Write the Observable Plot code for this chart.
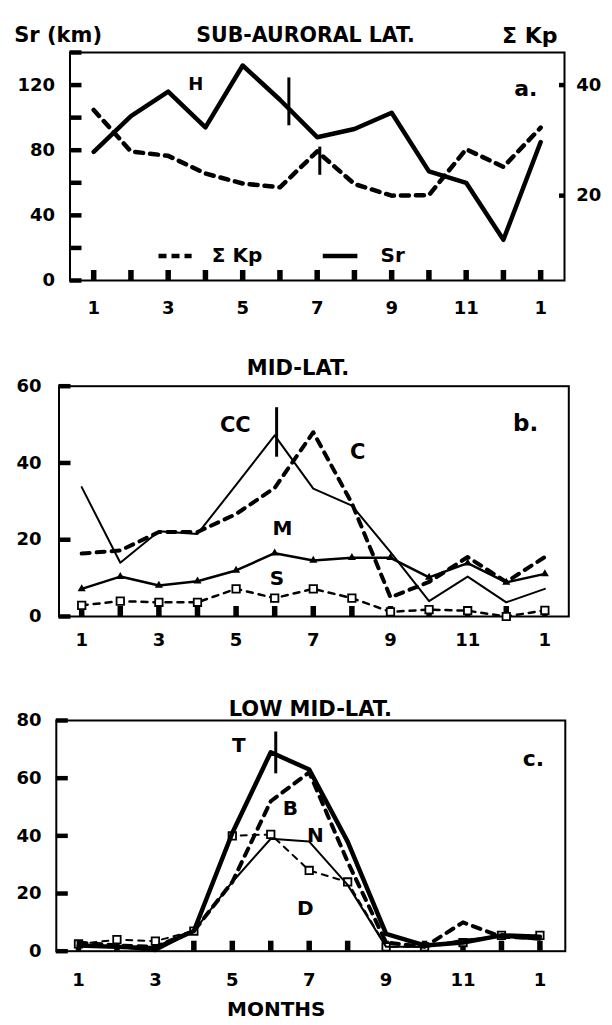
<!DOCTYPE html>
<html>
<head>
<meta charset="utf-8">
<script src="https://cdn.jsdelivr.net/npm/d3@7"></script>
<script src="https://cdn.jsdelivr.net/npm/@observablehq/plot@0.6"></script>
<style>
  html, body { margin: 0; padding: 0; background: white; }
  #chart { position: relative; width: 612px; height: 1025px; background: white; }
</style>
</head>
<body>
<div id="chart"></div>
<script>
// ---------- shared ----------
const months = [1, 2, 3, 4, 5, 6, 7, 8, 9, 10, 11, 12, 13];
const xTickValues = [1, 3, 5, 7, 9, 11, 13];
const xTickLabels = ["1", "3", "5", "7", "9", "11", "1"];

// ---------- panel a: sub-auroral ----------
const titleA = "SUB-AURORAL LAT.";
const srValues = [79, 101, 116, 94, 132, 111, 88, 93, 103, 67, 60, 25, 85];
const kpValues = [35.5, 28, 27.2, 24, 22.2, 21.5, 28, 22.1, 20, 20.1, 28.4, 25.2, 32.3];
const yTicksA = [0, 20, 40, 60, 80, 100, 120, 140];
const yLabelsA = [0, 40, 80, 120];
const kpAxisTicks = [20, 40];       // right axis (sum Kp)
const kpAxisSr = [52.1, 120];        // where those right-axis ticks sit on the Sr axis
const labelsA = [{t: "H", x: 3.74, y: 120.7, s: 18}, {t: "a.", x: 12.6, y: 117.6, s: 22}];
const barsA = [{x: 6.24, y1: 95, y2: 124.4}, {x: 7.07, y1: 64.6, y2: 81.9}];
const legendKp = [{name: "Σ Kp", x1: 2.74, x2: 3.63, tx: 4.17, y: 15}];
const legendSr = [{name: "Sr", x1: 7.15, x2: 8.08, tx: 8.7, y: 15}];

// ---------- panel b: mid-lat ----------
const titleB = "MID-LAT.";
const ccValues = [33.7, 14, 22.2, 21.5, 34.3, 47.2, 33.3, 28.9, 16.8, 4, 10.4, 3.7, 7.2];
const cValues = [16.4, 17.2, 22, 22, 26.7, 33.5, 48, 29.5, 5, 9, 15.5, 9, 15.5];
const mValues = [7.2, 10.4, 8.1, 9.2, 12, 16.5, 14.6, 15.3, 15.3, 10.2, 13.9, 8.9, 11.1];
const sValues = [2.9, 4, 3.7, 3.7, 7.2, 4.8, 7.2, 4.8, 1.2, 1.8, 1.5, 0, 1.6];
const yTicksB = [0, 20, 40, 60];
const labelsB = [
  {t: "CC", x: 4.98, y: 49.8, s: 21}, {t: "C", x: 8.15, y: 42.8, s: 21},
  {t: "M", x: 6.2, y: 22.9, s: 20}, {t: "S", x: 6.06, y: 9.9, s: 20},
  {t: "b.", x: 12.5, y: 50.3, s: 23}
];
const barsB = [{x: 6.05, y1: 41.5, y2: 54.4}];

// ---------- panel c: low mid-lat ----------
const titleC = "LOW MID-LAT.";
const tValues = [2, 1.5, 1, 7, 41, 69, 63, 38, 6, 2, 3, 5.5, 5];
const bValues = [3, 2, 1.5, 7, 24, 52, 62, 31, 3, 1.5, 10, 5, 4.5];
const nValues = [2, 1.5, 0, 7, 24, 39, 38, 23, 1.5, 1.5, 4, 5, 4];
const dValues = [2.5, 4, 3.5, 7, 40, 40.5, 28, 24, 1.5, 1.5, 3, 5.5, 5.5];
const yTicksC = [0, 20, 40, 60, 80];
const labelsC = [
  {t: "T", x: 5.17, y: 71.3, s: 20}, {t: "B", x: 6.51, y: 49.4, s: 20},
  {t: "N", x: 7.16, y: 40.1, s: 20}, {t: "D", x: 6.9, y: 14.7, s: 20},
  {t: "c.", x: 12.83, y: 66.7, s: 22}
];
const barsC = [{x: 6.13, y1: 61.5, y2: 76}];

// ---------- helpers ----------
const FONT = "DejaVu Sans";
const series = vals => months.map((m, i) => ({m, v: vals[i]}));

function commonMarks(g, yTicks, yLabels, xLabelDy, yLabelDx) {
  const plotH = g.height - g.mt - g.mb;
  const plotW = 612 - g.ml - g.mr;
  return [
    Plot.frame({strokeWidth: 2}),
    Plot.ruleX(months, {x: d => d, insetTop: plotH - 10, strokeWidth: 5.5}),
    Plot.ruleY(yTicks, {y: d => d, insetRight: plotW - 12, strokeWidth: 4.5}),
    Plot.text(xTickValues, {x: d => d, text: (d, i) => xTickLabels[i], frameAnchor: "bottom", dy: xLabelDy, fontSize: 18, fontWeight: "bold"}),
    Plot.text(yLabels, {y: d => d, text: d => String(d), frameAnchor: "left", textAnchor: "end", dx: yLabelDx, fontSize: 18, fontWeight: "bold"})
  ];
}

function labelMarks(labels) {
  return Plot.text(labels, {x: "x", y: "y", text: "t", fontSize: d => d.s, fontWeight: "bold"});
}
function barMarks(bars) {
  return Plot.ruleX(bars, {x: "x", y1: "y1", y2: "y2", strokeWidth: 3});
}
function headText(str, anchor, dx, dy, size, textAnchor) {
  return Plot.text([str], {text: d => d, frameAnchor: anchor, textAnchor, dx, dy, fontSize: size, fontWeight: "bold"});
}

function place(svg, top) {
  svg.style.position = "absolute";
  svg.style.top = top + "px";
  svg.style.left = "0px";
  document.getElementById("chart").appendChild(svg);
}

const styleObj = {fontFamily: FONT, fontWeight: "bold", background: "transparent", color: "black", overflow: "visible"};

// ---------- panel a ----------
{
  const g = {height: 330, mt: 52, mb: 50, ml: 69.5, mr: 48};
  const kpSlope = (kpAxisSr[1] - kpAxisSr[0]) / (kpAxisTicks[1] - kpAxisTicks[0]);
  const kpToSr = k => kpAxisSr[0] + (k - kpAxisTicks[0]) * kpSlope;
  const plotW = 612 - g.ml - g.mr;
  const p = Plot.plot({
    width: 612, height: g.height,
    marginTop: g.mt, marginBottom: g.mb, marginLeft: g.ml, marginRight: g.mr,
    x: {domain: [0.364, 13.64], axis: null},
    y: {domain: [0, 140], axis: null},
    style: styleObj,
    marks: [
      ...commonMarks(g, yTicksA, yLabelsA, 33, -15),
      Plot.ruleY(kpAxisTicks, {y: kpToSr, insetLeft: plotW - 5, strokeWidth: 4.5}),
      Plot.text(kpAxisTicks, {y: kpToSr, text: d => String(d), frameAnchor: "right", textAnchor: "start", dx: 11.7, fontSize: 18, fontWeight: "bold"}),
      Plot.line(series(kpValues), {x: "m", y: d => kpToSr(d.v), strokeWidth: 4.5, strokeDasharray: "8,7"}),
      Plot.line(series(srValues), {x: "m", y: "v", strokeWidth: 4.5}),
      barMarks(barsA),
      labelMarks(labelsA),
      Plot.link(legendKp, {x1: "x1", x2: "x2", y1: "y", y2: "y", strokeWidth: 4.5, strokeDasharray: "8,5"}),
      Plot.link(legendSr, {x1: "x1", x2: "x2", y1: "y", y2: "y", strokeWidth: 4.5}),
      Plot.text([...legendKp, ...legendSr], {x: "tx", y: "y", text: "name", textAnchor: "start", fontSize: 20, fontWeight: "bold"}),
      headText(titleA, "top-left", 235.5, -25.3, 20.5, "middle"),
      headText("Sr (km)", "top-left", -55.8, -25.3, 21, "start"),
      headText("Σ Kp", "top-left", 432, -25.3, 22, "start")
    ]
  });
  place(p, 0);
}

// ---------- panel b ----------
{
  const g = {height: 330, mt: 55.7, mb: 44, ml: 58.5, mr: 43.7};
  const p = Plot.plot({
    width: 612, height: g.height,
    marginTop: g.mt, marginBottom: g.mb, marginLeft: g.ml, marginRight: g.mr,
    x: {domain: [0.412, 13.62], axis: null},
    y: {domain: [0, 60], axis: null},
    style: styleObj,
    marks: [
      ...commonMarks(g, yTicksB, yTicksB, 29, -17.5),
      Plot.line(series(sValues), {x: "m", y: "v", strokeWidth: 2.5, strokeDasharray: "6,6"}),
      Plot.dot(series(sValues), {x: "m", y: "v", symbol: "square", r: 4.2, fill: "white", stroke: "black", strokeWidth: 1.8}),
      Plot.line(series(mValues), {x: "m", y: "v", strokeWidth: 2.5}),
      Plot.dot(series(mValues), {x: "m", y: "v", symbol: "triangle", r: 3, fill: "black"}),
      Plot.line(series(ccValues), {x: "m", y: "v", strokeWidth: 2}),
      Plot.line(series(cValues), {x: "m", y: "v", strokeWidth: 4, strokeDasharray: "8,7"}),
      barMarks(barsB),
      labelMarks(labelsB),
      headText(titleB, "top-left", 239, -25.7, 21, "middle")
    ]
  });
  place(p, 330);
}

// ---------- panel c ----------
{
  const g = {height: 365, mt: 60, mb: 74.3, ml: 55.8, mr: 47.2};
  const p = Plot.plot({
    width: 612, height: g.height,
    marginTop: g.mt, marginBottom: g.mb, marginLeft: g.ml, marginRight: g.mr,
    x: {domain: [0.423, 13.66], axis: null},
    y: {domain: [0, 80], axis: null},
    style: styleObj,
    marks: [
      ...commonMarks(g, yTicksC, yTicksC, 34.3, -14.8),
      Plot.line(series(dValues), {x: "m", y: "v", strokeWidth: 2, strokeDasharray: "6,6"}),
      Plot.dot(series(dValues), {x: "m", y: "v", symbol: "square", r: 4.2, fill: "white", stroke: "black", strokeWidth: 1.8}),
      Plot.line(series(nValues), {x: "m", y: "v", strokeWidth: 2}),
      Plot.line(series(bValues), {x: "m", y: "v", strokeWidth: 4, strokeDasharray: "8,7"}),
      Plot.line(series(tValues), {x: "m", y: "v", strokeWidth: 4.5}),
      barMarks(barsC),
      labelMarks(labelsC),
      headText(titleC, "top-left", 254, -19.6, 21, "middle"),
      headText("MONTHS", "bottom-left", 220, 64.3, 20, "middle")
    ]
  });
  place(p, 660);
}
</script>
</body>
</html>
